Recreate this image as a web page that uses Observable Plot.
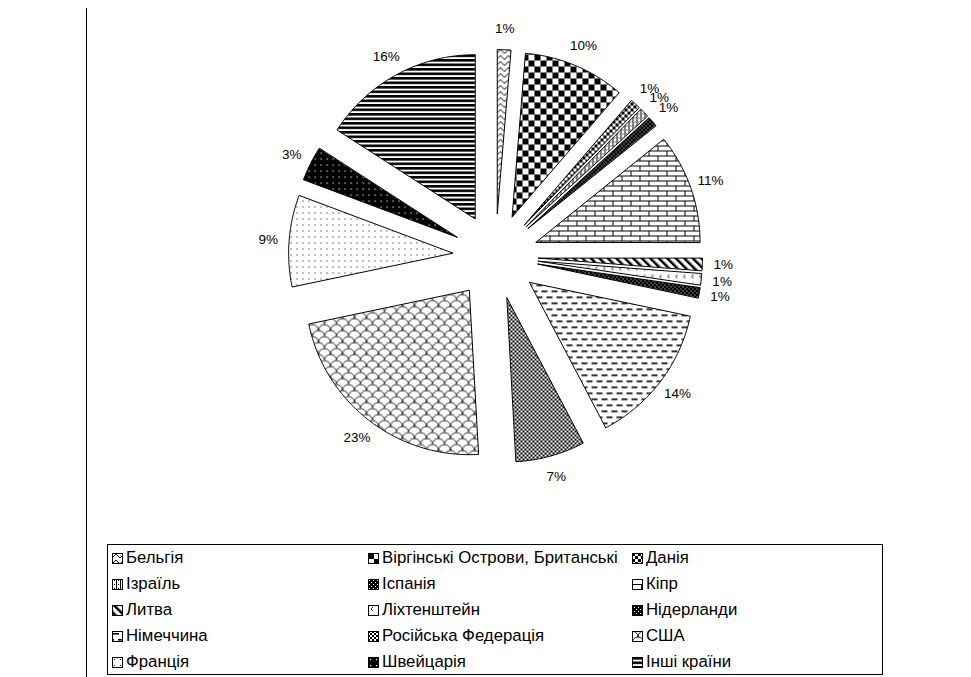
<!DOCTYPE html>
<html><head><meta charset="utf-8">
<script src="https://cdn.jsdelivr.net/npm/d3@7"></script>
<script src="https://cdn.jsdelivr.net/npm/@observablehq/plot@0.6"></script>
<style>
body{margin:0;background:#fff;font-family:"Liberation Sans",Arial,sans-serif;}
#wrap{position:relative;width:971px;height:677px;overflow:hidden;background:#fff;}
#chart{position:absolute;left:0;top:0;}
#vline{position:absolute;left:86px;top:8px;width:1px;height:669px;background:#000;}
#legend{position:absolute;left:107px;top:544px;width:774px;height:129px;border:1.5px solid #000;}
.item{position:absolute;display:flex;align-items:center;font-size:16.8px;height:26px;white-space:nowrap;color:#000;}
.item svg{margin-right:3px;flex:none;}
</style></head>
<body><div id="wrap"><div id="chart"></div><div id="vline"></div><div id="legend"></div></div>
<script>
// ---- data ----
const countries = ["Бельгія","Віргінські Острови, Британські","Данія","Ізраїль","Іспанія","Кіпр","Литва","Ліхтенштейн","Нідерланди","Німеччина","Російська Федерація","США","Франція","Швейцарія","Інші країни"];
const shares = [1.3, 10.0, 1.0, 0.9, 1.0, 10.8, 1.2, 1.1, 1.0, 14.0, 6.8, 22.6, 9.0, 3.4, 15.9];

// ---- patterns (styles) ----
const patternDefs = [
 `<pattern id="pat0" width="8" height="6" patternUnits="userSpaceOnUse"><rect width="8" height="6" fill="#fff"/><path d="M0,5 L4,1 L8,5" fill="none" stroke="#000" stroke-width="1"/></pattern>`,
 `<pattern id="pat1" width="12" height="12" patternUnits="userSpaceOnUse"><rect width="12" height="12" fill="#fff"/><rect width="6" height="6" fill="#000"/><rect x="6" y="6" width="6" height="6" fill="#000"/></pattern>`,
 `<pattern id="pat2" width="6" height="6" patternUnits="userSpaceOnUse"><rect width="6" height="6" fill="#fff"/><rect width="3" height="3" fill="#000"/><rect x="3" y="3" width="3" height="3" fill="#000"/></pattern>`,
 `<pattern id="pat3" width="4" height="4" patternUnits="userSpaceOnUse"><rect width="4" height="4" fill="#fff"/><rect width="1" height="4" fill="#000"/><rect x="2" y="1" width="1" height="1" fill="#000"/></pattern>`,
 `<pattern id="pat4" width="4" height="4" patternUnits="userSpaceOnUse"><rect width="4" height="4" fill="#000"/><rect x="1" y="1" width="1" height="1" fill="#fff"/><rect x="3" y="3" width="1" height="1" fill="#fff"/></pattern>`,
 `<pattern id="pat5" width="18" height="10" patternUnits="userSpaceOnUse"><rect width="18" height="10" fill="#fff"/><path d="M0,0.5H18M0,5.5H18M0.5,0.5V5.5M9.5,5.5V10.5" fill="none" stroke="#000" stroke-width="1"/></pattern>`,
 `<pattern id="pat6" width="6" height="6" patternUnits="userSpaceOnUse" patternTransform="rotate(-45)"><rect width="6" height="6" fill="#fff"/><rect width="2.5" height="6" fill="#000"/></pattern>`,
 `<pattern id="pat7" width="8" height="8" patternUnits="userSpaceOnUse"><rect width="8" height="8" fill="#fff"/><path d="M5,2 L3,4 L5,6" fill="none" stroke="#000" stroke-width="0.8"/></pattern>`,
 `<pattern id="pat8" width="4" height="4" patternUnits="userSpaceOnUse"><rect width="4" height="4" fill="#000"/><rect width="1" height="1" fill="#fff"/><rect x="2" y="2" width="1" height="1" fill="#fff"/></pattern>`,
 `<pattern id="pat9" width="10" height="12" patternUnits="userSpaceOnUse"><rect width="10" height="12" fill="#fff"/><rect x="1" y="2" width="6" height="1.6" fill="#000"/><rect x="6" y="8" width="4" height="1.6" fill="#000"/><rect x="0" y="8" width="2" height="1.6" fill="#000"/></pattern>`,
 `<pattern id="pat10" width="4" height="4" patternUnits="userSpaceOnUse"><rect width="4" height="4" fill="#fff"/><rect width="2" height="2" fill="#000"/><rect x="2" y="2" width="2" height="2" fill="#000"/></pattern>`,
 `<pattern id="pat11" width="12" height="12" patternUnits="userSpaceOnUse"><rect width="12" height="12" fill="#fff"/><path d="M0,12 A6,6 0 0 1 12,12 M-6,6 A6,6 0 0 1 6,6 M6,6 A6,6 0 0 1 18,6" fill="none" stroke="#000" stroke-width="0.9"/></pattern>`,
 `<pattern id="pat12" width="6" height="6" patternUnits="userSpaceOnUse"><rect width="6" height="6" fill="#fff"/><rect x="2" y="2" width="1" height="1" fill="#000"/></pattern>`,
 `<pattern id="pat13" width="6" height="6" patternUnits="userSpaceOnUse"><rect width="6" height="6" fill="#000"/><rect x="2" y="2" width="1.2" height="1.2" fill="#fff"/></pattern>`,
 `<pattern id="pat14" width="4" height="4.5" patternUnits="userSpaceOnUse"><rect width="4" height="4.5" fill="#fff"/><rect width="4" height="2.6" fill="#000"/></pattern>`
];

// hidden defs
const defsSvg = document.createElementNS("http://www.w3.org/2000/svg","svg");
defsSvg.setAttribute("width",0); defsSvg.setAttribute("height",0);
defsSvg.style.position="absolute";
defsSvg.innerHTML = "<defs>" + patternDefs.join("") + "</defs>";
document.body.prepend(defsSvg);

// ---- geometry ----
const W=971, H=540, cx=495, cy=256, R=164;
const explode = 43/R, labelR = 228/R;
const total = d3.sum(shares);
const arcs = d3.pie().sort(null).value(d=>d)(shares);
const pts = [];
const labels = [];
arcs.forEach((a,i)=>{
  const mid=(a.startAngle+a.endAngle)/2;
  const ox=explode*Math.sin(mid), oy=-explode*Math.cos(mid);
  pts.push({i, x:ox, y:oy});
  const n=Math.max(2, Math.ceil((a.endAngle-a.startAngle)/0.01));
  for(let k=0;k<=n;k++){
    const t=a.startAngle+(a.endAngle-a.startAngle)*k/n;
    pts.push({i, x:ox+Math.sin(t), y:oy-Math.cos(t)});
  }
  labels.push({x:labelR*Math.sin(mid), y:-labelR*Math.cos(mid), t:Math.round(shares[i]/total*100)+"%"});
});

const chart = Plot.plot({
  width:W, height:H, margin:0,
  style:{background:"transparent", fontFamily:"'Liberation Sans', Arial, sans-serif"},
  x:{domain:[-cx/R,(W-cx)/R], range:[0,W], axis:null},
  y:{domain:[-cy/R,(H-cy)/R], range:[0,H], axis:null},
  color:{type:"identity"},
  marks:[
    Plot.line(pts,{x:"x", y:"y", z:"i", fill:d=>`url(#pat${d.i})`, stroke:"#000", strokeWidth:1, curve:"linear-closed", strokeLinejoin:"miter"}),
    Plot.text(labels,{x:"x", y:"y", text:"t", fontSize:13.5, fill:"#000"})
  ]
});
document.getElementById("chart").appendChild(chart);

// ---- legend ----
const legend = d3.select("#legend");
const colX=[4,260,524];
countries.forEach((c,i)=>{
  const r=Math.floor(i/3), col=i%3;
  const it = legend.append("div").attr("class","item").style("left",colX[col]+"px").style("top",(r*26)+"px");
  const s = it.append("svg").attr("width",11).attr("height",11);
  s.append("rect").attr("x",0.5).attr("y",0.5).attr("width",10).attr("height",10).attr("fill",`url(#pat${i})`).attr("stroke","#000");
  it.append("span").text(c);
});
</script>
</body></html>
